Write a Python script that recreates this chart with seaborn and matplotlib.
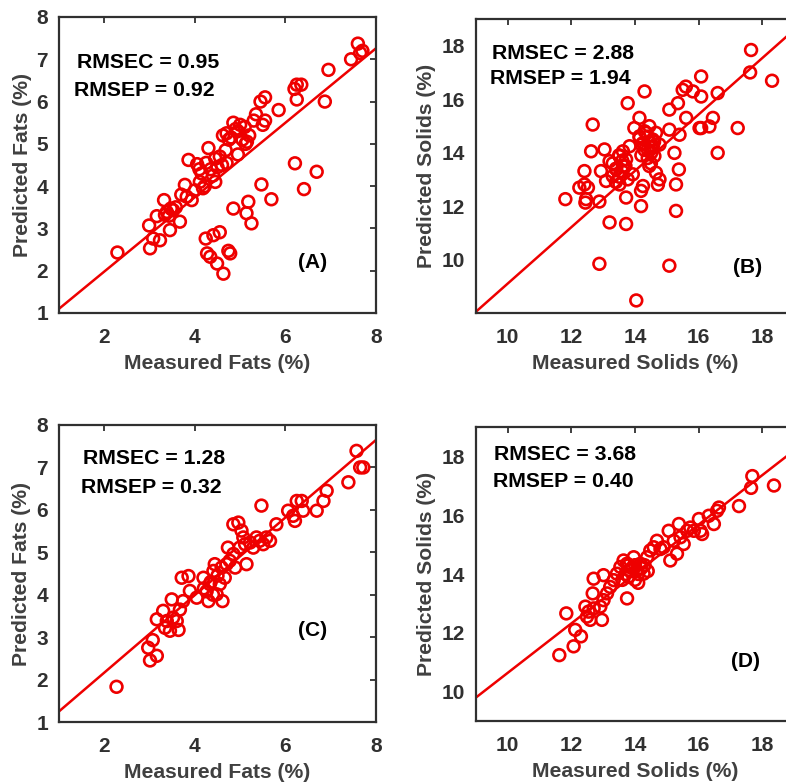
import numpy as np
import pandas as pd
import matplotlib
matplotlib.use("Agg")
import matplotlib.pyplot as plt
import seaborn as sns

sns.set_theme(style="white")
plt.rcParams['font.family'] = ['Liberation Sans', 'DejaVu Sans']

# ---------------- data ----------------
# Panel A: fats, calibration model
fat_a_meas = [2.29, 2.99, 3.01, 3.08, 3.16, 3.23, 3.32, 3.34, 3.45, 3.38, 3.47, 3.52, 3.58, 3.67, 3.43,
              3.78, 3.86, 3.82, 3.93, 4.05, 4.10, 4.11, 4.18, 4.22, 4.30, 4.25, 4.35, 4.40, 4.45, 4.45,
              4.55, 4.60, 4.68, 4.62, 4.70, 4.75, 4.80, 4.85, 4.90, 4.95, 5.00, 5.05, 5.10, 5.12, 5.20,
              5.30, 5.35, 5.45, 5.55, 5.50, 5.55, 5.85, 6.20, 6.25, 6.35, 6.25, 6.87, 6.95, 7.45, 7.60,
              7.70, 7.65, 4.50, 4.70, 4.95, 5.15, 4.00, 4.15, 3.70,
              4.85, 5.18, 5.14, 5.25, 5.47, 5.69, 6.21, 6.41, 6.69, 4.24, 4.41, 4.55, 4.27, 4.34, 4.49,
              4.63, 4.74, 4.78]
fat_a_pred = [2.43, 3.07, 2.53, 2.76, 3.29, 2.72, 3.67, 3.32, 2.96, 3.39, 3.47, 3.43, 3.50, 3.16, 3.30,
              4.03, 4.62, 3.75, 3.67, 4.52, 4.40, 4.10, 3.95, 4.00, 4.90, 4.55, 4.40, 4.25, 4.10, 4.65,
              4.70, 4.50, 4.85, 5.20, 5.25, 5.10, 5.15, 5.50, 5.35, 5.30, 5.45, 5.10, 5.40, 5.00, 5.20,
              5.55, 5.70, 6.00, 6.10, 5.45, 5.55, 5.80, 6.30, 6.40, 6.40, 6.05, 6.00, 6.75, 7.00, 7.37,
              7.20, 7.15, 4.45, 4.55, 4.75, 5.05, 3.90, 4.30, 3.80,
              3.47, 3.63, 3.36, 3.12, 4.04, 3.69, 4.54, 3.93, 4.34, 2.76, 2.84, 2.91, 2.41, 2.33, 2.17,
              1.93, 2.47, 2.41]

# Panel B: solids, calibration model
sol_b_meas = [11.81, 12.25, 12.41, 12.41, 12.46, 12.44, 12.52, 12.67, 12.62, 12.88, 12.88, 12.93, 13.04,
              13.09, 13.20, 13.20, 13.30, 13.41, 13.51, 13.62, 13.51, 13.72, 13.62, 13.77, 13.72, 13.72,
              13.77, 13.83, 13.93, 13.98, 14.04, 14.14, 14.19, 14.19, 14.25, 14.30, 14.14, 14.25, 14.35,
              14.40, 14.45, 14.51, 14.56, 14.61, 14.66, 14.45, 14.56, 14.66, 14.77, 14.72, 14.77, 15.08,
              15.08, 15.08, 15.24, 15.29, 15.29, 15.38, 15.35, 15.40, 15.50, 15.60, 15.61, 15.82, 16.08,
              16.08, 16.03, 16.08, 16.34, 16.45, 16.60, 16.60, 17.23, 17.65, 17.62, 18.31,
              13.40, 13.50, 13.60, 13.50, 13.70, 13.30, 13.60, 13.40, 14.20, 14.30, 14.40, 14.50, 14.20,
              14.60, 14.30, 14.40, 14.15, 14.50]
sol_b_pred = [12.26, 12.69, 13.31, 12.81, 12.26, 12.13, 12.69, 15.05, 14.05, 12.17, 9.84, 13.31, 14.12,
              12.94, 11.39, 13.68, 13.12, 13.37, 13.87, 13.50, 12.81, 13.75, 14.05, 13.00, 12.32, 11.33,
              15.85, 14.24, 13.19, 14.92, 8.47, 15.30, 12.57, 12.00, 12.75, 16.29, 14.61, 14.36, 14.74,
              14.12, 14.99, 13.99, 14.49, 13.87, 14.74, 13.50, 14.24, 13.25, 13.00, 12.80, 14.30, 14.86,
              15.61, 9.77, 13.99, 12.81, 11.82, 13.37, 15.85, 14.67, 16.35, 16.47, 15.30, 16.29, 16.85,
              16.10, 14.92, 14.92, 14.98, 15.30, 16.23, 13.99, 14.92, 17.84, 17.00, 16.69,
              13.40, 13.10, 13.70, 13.90, 13.50, 13.60, 13.30, 12.90, 14.30, 14.10, 14.60, 14.20, 13.90,
              14.40, 14.80, 13.80, 14.55, 13.60]

# Panel C: fats, improved model
fat_c_meas = [2.27, 2.97, 3.01, 3.07, 3.16, 3.16, 3.30, 3.34, 3.38, 3.45, 3.52, 3.49, 3.60, 3.64, 3.67,
              3.74, 3.71, 3.86, 3.89, 4.04, 4.19, 4.26, 4.30, 4.33, 4.41, 4.44, 4.48, 4.55, 4.59, 4.66,
              4.70, 4.73, 4.77, 4.85, 4.85, 4.96, 4.89, 4.99, 5.03, 5.07, 5.11, 5.22, 5.29, 5.36, 5.43,
              5.51, 5.58, 5.66, 5.80, 6.06, 6.17, 6.21, 6.25, 6.36, 6.39, 6.69, 6.84, 6.91, 7.39, 7.57,
              7.65, 7.72, 5.47, 5.14, 4.61, 4.35, 4.50, 4.20, 4.40]
fat_c_pred = [1.83, 2.75, 2.45, 2.93, 2.56, 3.42, 3.62, 3.22, 3.38, 3.15, 3.46, 3.89, 3.38, 3.17, 3.65,
              3.85, 4.40, 4.44, 4.09, 3.93, 4.40, 4.08, 3.85, 4.25, 4.56, 4.72, 4.01, 4.25, 4.64, 4.40,
              4.72, 5.11, 4.80, 4.96, 5.66, 5.70, 4.64, 5.11, 5.51, 5.35, 5.19, 5.23, 5.11, 5.35, 5.27,
              5.19, 5.35, 5.27, 5.66, 5.98, 5.86, 5.74, 6.21, 6.21, 5.98, 5.98, 6.21, 6.45, 6.65, 7.39,
              7.00, 7.00, 6.10, 4.72, 3.85, 4.30, 4.45, 4.15, 4.00]

# Panel D: solids, improved model
sol_d_meas = [11.62, 11.84, 12.07, 12.12, 12.30, 12.44, 12.49, 12.54, 12.59, 12.70, 12.70, 12.67, 12.96,
              13.01, 12.91, 13.01, 13.12, 13.22, 13.33, 13.43, 13.54, 13.64, 13.75, 13.75, 13.85, 13.96,
              14.06, 14.17, 14.27, 14.38, 14.48, 14.59, 14.69, 14.80, 14.90, 15.06, 15.11, 15.22, 15.32,
              15.38, 15.43, 15.53, 15.64, 15.74, 15.85, 16.01, 16.06, 16.11, 16.32, 16.48, 16.58, 16.64,
              17.27, 17.65, 17.69, 18.37,
              13.70, 13.80, 13.90, 14.00, 14.10, 14.20, 13.60, 14.30, 13.80, 14.00, 14.40, 14.10]
sol_d_pred = [11.24, 12.66, 11.54, 12.10, 11.88, 12.89, 12.55, 12.72, 12.44, 12.83, 13.84, 13.34, 12.44,
              13.96, 12.89, 13.11, 13.34, 13.56, 13.79, 14.01, 14.24, 14.46, 14.35, 13.17, 14.12, 14.57,
              14.12, 14.35, 14.01, 14.57, 14.80, 14.91, 15.13, 14.85, 14.91, 15.47, 14.46, 15.13, 14.69,
              15.70, 15.25, 15.02, 15.47, 15.58, 15.47, 15.87, 15.47, 15.36, 15.98, 15.70, 16.15, 16.26,
              16.31, 16.93, 17.33, 17.01,
              14.00, 13.90, 14.20, 13.80, 14.00, 14.20, 13.80, 14.30, 14.30, 14.30, 14.10, 13.70]

fit_slope = [0.88, 1.054, 0.914, 0.84]
fit_intercept = [0.22, -1.436, 0.336, 2.24]
rmsec = ["0.95", "2.88", "1.28", "3.68"]
rmsep = ["0.92", "1.94", "0.32", "0.40"]
panel_tags = ["(A)", "(B)", "(C)", "(D)"]
x_labels = ["Measured Fats (%)", "Measured Solids (%)", "Measured Fats (%)", "Measured Solids (%)"]
y_labels = ["Predicted Fats (%)", "Predicted Solids (%)", "Predicted Fats (%)", "Predicted Solids (%)"]

# ---------------- figure ----------------
W, H = 786, 783
fig = plt.figure(figsize=(W / 100, H / 100), dpi=100)

def rect(l, t, r, b):
    return [l / W, 1 - b / H, (r - l) / W, (b - t) / H]

rects = [rect(59, 17, 376, 313), rect(476, 19, 794, 313),
         rect(59, 425, 376, 722), rect(476, 427, 794, 721)]
xlims = [(1, 8), (9, 19), (1, 8), (9, 19)]
ylims = [(1, 8), (8, 19), (1, 8), (9, 19)]
xticks = [[2, 4, 6, 8], [10, 12, 14, 16, 18], [2, 4, 6, 8], [10, 12, 14, 16, 18]]
yticks = [[1, 2, 3, 4, 5, 6, 7, 8], [10, 12, 14, 16, 18], [1, 2, 3, 4, 5, 6, 7, 8], [10, 12, 14, 16, 18]]
text1_pos = [(0.28, 0.845), (0.274, 0.884), (0.30, 0.886), (0.28, 0.908)]
text2_pos = [(0.27, 0.753), (0.264, 0.796), (0.29, 0.79), (0.274, 0.816)]
tag_pos = [(0.80, 0.172), (0.855, 0.156), (0.80, 0.307), (0.846, 0.204)]
ylabel_x = [-0.114, -0.157, -0.117, -0.157]

datasets = [(fat_a_meas, fat_a_pred), (sol_b_meas, sol_b_pred),
            (fat_c_meas, fat_c_pred), (sol_d_meas, sol_d_pred)]

red = '#ee0000'
tick_col = '#303030'
for i in range(4):
    ax = fig.add_axes(rects[i])
    mx, py = datasets[i]
    df = pd.DataFrame({"measured": mx, "predicted": py})
    xl = np.array(xlims[i], dtype=float)
    line_df = pd.DataFrame({"x": xl, "y": fit_slope[i] * xl + fit_intercept[i]})
    sns.lineplot(data=line_df, x="x", y="y", ax=ax, color=red, linewidth=1.8, zorder=2)
    sns.scatterplot(data=df, x="measured", y="predicted", ax=ax, marker='o', s=72,
                    facecolor='none', edgecolor=red, linewidth=1.9, zorder=3)
    ax.set_xlim(*xlims[i])
    ax.set_ylim(*ylims[i])
    ax.set_xticks(xticks[i])
    ax.set_yticks(yticks[i])
    ax.tick_params(direction='in', length=4, width=1.3, top=True, right=True,
                   labelsize=15, colors=tick_col)
    ax.tick_params(axis='x', pad=11)
    ax.tick_params(axis='y', pad=8)
    for lab in ax.get_xticklabels() + ax.get_yticklabels():
        lab.set_fontweight('bold')
    for sp in ax.spines.values():
        sp.set_visible(True)
        sp.set_color('#303030')
        sp.set_linewidth(1.6)
    ax.set_xlabel(x_labels[i], fontsize=15.2, fontweight='bold', color='#404040', labelpad=5)
    ax.set_ylabel(y_labels[i], fontsize=15.2, fontweight='bold', color='#404040',
                  va='center')
    ax.yaxis.set_label_coords(ylabel_x[i], 0.5)
    ax.text(*text1_pos[i], f"RMSEC = {rmsec[i]}", transform=ax.transAxes, ha='center', va='center',
            fontsize=15.3, fontweight='bold', color='black')
    ax.text(*text2_pos[i], f"RMSEP = {rmsep[i]}", transform=ax.transAxes, ha='center', va='center',
            fontsize=15.3, fontweight='bold', color='black')
    ax.text(*tag_pos[i], panel_tags[i], transform=ax.transAxes, ha='center', va='center',
            fontsize=15, fontweight='bold', color='black')
    ax.set_facecolor('white')

fig.savefig("out.png", dpi=100, facecolor='white')
